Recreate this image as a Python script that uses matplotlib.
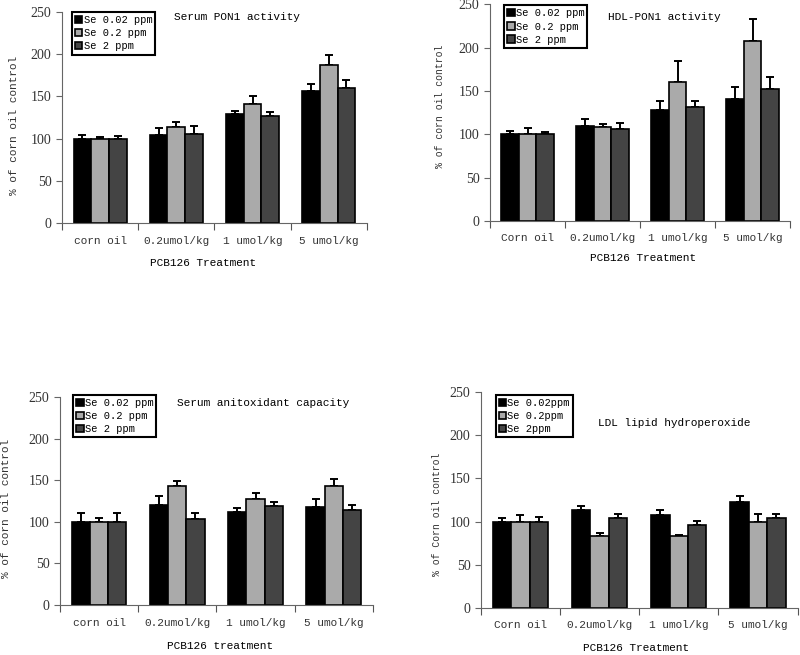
import matplotlib
matplotlib.use('Agg')
import matplotlib.pyplot as plt
import numpy as np

series = ['Se 0.02 ppm', 'Se 0.2 ppm', 'Se 2 ppm']
series4 = ['Se 0.02ppm', 'Se 0.2ppm', 'Se 2ppm']
doses = ['0.2umol/kg', '1 umol/kg', '5 umol/kg']

# serum PON1 activity (rows = Se group, cols = treatment)
pon1 = [[100, 104, 129, 156], [100, 114, 141, 187], [100, 105, 127, 160]]
pon1_err = [[4, 9, 4, 9], [2, 6, 9, 12], [3, 10, 5, 10]]
# HDL-PON1 activity
hdl = [[100, 109, 128, 141], [100, 108, 160, 208], [100, 106, 132, 152]]
hdl_err = [[4, 9, 10, 14], [7, 4, 25, 25], [3, 7, 6, 14]]
# serum antioxidant capacity
aox = [[100, 120, 112, 118], [100, 143, 128, 143], [100, 103, 119, 114]]
aox_err = [[11, 11, 5, 10], [5, 6, 7, 9], [11, 7, 5, 6]]
# LDL lipid hydroperoxide
ldl = [[100, 113, 107, 123], [100, 83, 83, 100], [100, 104, 96, 104]]
ldl_err = [[4, 5, 6, 7], [7, 4, 1, 9], [5, 5, 5, 5]]

colors = ['#000000', '#aaaaaa', '#444444']
mono = 'Liberation Mono'

panels = [
    dict(pos=[0.0775, 0.6595, 0.381, 0.322], vals=pon1, err=pon1_err, labels=series,
         cats=['corn oil'] + doses, title='Serum PON1 activity', tpos=(0.574, 0.976),
         leg=(0.033, 1.0), xl='PCB126 Treatment', xlpos=(0.254, 0.598),
         yl='% of corn oil control', ylpos=(0.017, 0.808), ylfs=8),
    dict(pos=[0.6125, 0.6626, 0.375, 0.331], vals=hdl, err=hdl_err, labels=series,
         cats=['Corn oil'] + doses, title='HDL-PON1 activity', tpos=(0.58, 0.94),
         leg=(0.047, 0.995), xl='PCB126 Treatment', xlpos=(0.804, 0.606),
         yl='% of corn oil control', ylpos=(0.55, 0.837), ylfs=7),
    dict(pos=[0.075, 0.0763, 0.391, 0.3176], vals=aox, err=aox_err, labels=series,
         cats=['corn oil'] + doses, title='Serum anitoxidant capacity', tpos=(0.649, 0.971),
         leg=(0.042, 1.01), xl='PCB126 treatment', xlpos=(0.275, 0.0137),
         yl='% of corn oil control', ylpos=(0.008, 0.224), ylfs=8),
    dict(pos=[0.601, 0.0718, 0.396, 0.33], vals=ldl, err=ldl_err, labels=series4,
         cats=['Corn oil'] + doses, title='LDL lipid hydroperoxide', tpos=(0.612, 0.856),
         leg=(0.047, 0.986), xl='PCB126 Treatment', xlpos=(0.795, 0.011),
         yl='% of Corn oil control', ylpos=(0.546, 0.215), ylfs=7),
]

fig = plt.figure(figsize=(8, 6.55), dpi=100)
w = 0.232
x = np.arange(4)
for p in panels:
    ax = fig.add_axes(p['pos'])
    for i in range(3):
        ax.bar(x + (i - 1) * w, p['vals'][i], w, color=colors[i], edgecolor='black',
               linewidth=1.2, label=p['labels'][i], zorder=2)
        ax.errorbar(x + (i - 1) * w, p['vals'][i], yerr=[np.zeros(4), p['err'][i]],
                    fmt='none', ecolor='black', elinewidth=1.4, capsize=3, capthick=1.4, zorder=1)
    ax.set_xlim(-0.5, 3.5)
    ax.set_ylim(0, 250)
    ax.set_yticks(range(0, 251, 50))
    ax.set_yticklabels([str(v) for v in range(0, 251, 50)], family='Liberation Serif', fontsize=10, color='#333333')
    ax.set_xticks(np.arange(-0.5, 3.6, 1))
    ax.set_xticklabels([])
    ax.set_xticks(x, minor=True)
    ax.set_xticklabels(p['cats'], minor=True, family=mono, fontsize=8, color='#333333')
    ax.tick_params(axis='x', which='minor', length=0, pad=9)
    ax.tick_params(axis='x', which='major', length=5, direction='out', color='#555555')
    ax.tick_params(axis='y', length=4, color='#666666')
    for s in ['top', 'right']:
        ax.spines[s].set_visible(False)
    for s in ['left', 'bottom']:
        ax.spines[s].set_color('#666666')
    ax.text(p['tpos'][0], p['tpos'][1], p['title'], transform=ax.transAxes, ha='center', va='center',
            family=mono, fontsize=8)
    leg = ax.legend(loc='upper left', bbox_to_anchor=p['leg'], prop={'family': mono, 'size': 7.5},
                    handlelength=0.7, handleheight=0.7, handletextpad=0.1, borderpad=0.3,
                    labelspacing=0.3, fancybox=False, framealpha=1, edgecolor='black', borderaxespad=0)
    leg.get_frame().set_linewidth(1.5)
    fig.text(p['xlpos'][0], p['xlpos'][1], p['xl'], ha='center', va='center', family=mono, fontsize=8)
    fig.text(p['ylpos'][0], p['ylpos'][1], p['yl'], ha='center', va='center', rotation=90,
             family=mono, fontsize=p['ylfs'], color='#333333')

fig.savefig('out.png', dpi=100)
